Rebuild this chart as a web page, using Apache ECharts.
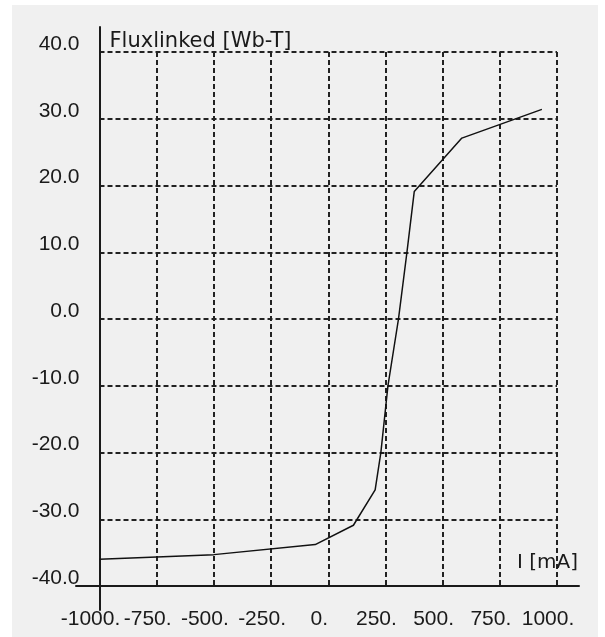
<!DOCTYPE html>
<html>
<head>
<meta charset="utf-8">
<script src="https://cdn.jsdelivr.net/npm/echarts@6/dist/echarts.min.js"></script>
<style>
html,body{margin:0;padding:0;background:#ffffff;}
#chart{width:605px;height:637px;}
</style>
</head>
<body>
<div id="chart"></div>
<script>
// Data
var currentMA = [-1000, -500, -57, 110, 205, 230, 261, 307, 344, 376, 584, 934];
var fluxLinked = [-36.0, -35.3, -33.8, -30.9, -25.6, -20.0, -10.0, 0.0, 10.0, 19.1, 27.1, 31.4];
var xTicks = [-1000, -750, -500, -250, 0, 250, 500, 750, 1000];
var yTicks = [-40, -30, -20, -10, 0, 10, 20, 30, 40];
var yTitle = 'Fluxlinked [Wb-T]';
var xTitle = 'I [mA]';

var pts = currentMA.map(function (x, i) { return [x, fluxLinked[i]]; });
var ink = '#1a1a1a';
var numFont = '"Liberation Sans", Arial, sans-serif';
var txtFont = '"DejaVu Sans", sans-serif';

var chart = echarts.init(document.getElementById('chart'), null, {renderer: 'canvas'});
chart.setOption({
  backgroundColor: '#ffffff',
  animation: false,
  graphic: [{
    type: 'rect', z: -100, silent: true,
    shape: {x: 12, y: 5, width: 586, height: 632},
    style: {fill: '#f0f0f0'}
  }],
  grid: [
    {left: 99.5, right: 48, top: 52, bottom: 51},
    {left: 76, right: 26, top: 52, bottom: 51},
    {left: 99.5, right: 48, top: 27, bottom: 27}
  ],
  xAxis: [{
    type: 'value', gridIndex: 0, position: 'bottom',
    min: xTicks[0], max: xTicks[xTicks.length - 1], interval: xTicks[1] - xTicks[0],
    axisLine: {show: false, onZero: false}, axisTick: {show: false},
    axisLabel: {
      margin: 23, color: ink, fontSize: 21, fontFamily: numFont,
      padding: [0, 18, 0, 0],
      formatter: function (v) { return v + '.'; }
    },
    splitLine: {show: true, lineStyle: {color: '#222222', width: 2, type: [5, 3]}},
    name: xTitle, nameLocation: 'end', nameGap: 21,
    nameTextStyle: {color: ink, fontSize: 20, fontFamily: txtFont, align: 'right', verticalAlign: 'bottom', padding: [0, 0, 13, 0]}
  }, {
    type: 'value', gridIndex: 1, min: 0, max: 1, position: 'bottom',
    axisLine: {show: true, onZero: false, lineStyle: {color: ink, width: 2}},
    axisTick: {show: false}, axisLabel: {show: false}, splitLine: {show: false}
  }, {
    type: 'value', gridIndex: 2, min: 0, max: 1, show: false
  }],
  yAxis: [{
    type: 'value', gridIndex: 0, position: 'left',
    min: yTicks[0], max: yTicks[yTicks.length - 1], interval: yTicks[1] - yTicks[0],
    axisLine: {show: false, onZero: false}, axisTick: {show: false},
    axisLabel: {
      margin: 20, color: ink, fontSize: 21, fontFamily: numFont,
      verticalAlign: 'bottom', lineHeight: 16,
      formatter: function (v) { return v.toFixed(1); }
    },
    splitLine: {show: true, lineStyle: {color: '#222222', width: 2, type: [5, 3]}},
    name: yTitle, nameLocation: 'end', nameGap: 0,
    nameTextStyle: {color: ink, fontSize: 21, fontFamily: txtFont, align: 'left', verticalAlign: 'bottom', padding: [0, 0, 0, 10]}
  }, {
    type: 'value', gridIndex: 1, min: 0, max: 1, show: false
  }, {
    type: 'value', gridIndex: 2, min: 0, max: 1, position: 'left',
    axisLine: {show: true, onZero: false, lineStyle: {color: ink, width: 2}},
    axisTick: {show: false}, axisLabel: {show: false}, splitLine: {show: false}
  }],
  series: [{
    type: 'line', xAxisIndex: 0, yAxisIndex: 0,
    data: pts, showSymbol: false, symbol: 'none',
    lineStyle: {color: '#111111', width: 1.5}
  }]
});
</script>
</body>
</html>
